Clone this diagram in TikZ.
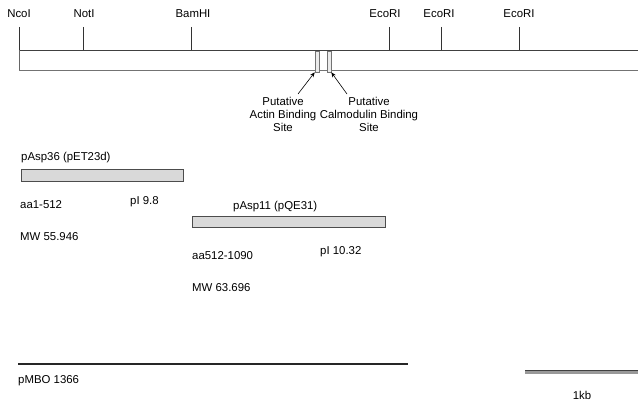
\documentclass[tikz,border=0pt]{standalone}
\usepackage{fontspec}
\setmainfont{Liberation Sans}
\usetikzlibrary{arrows.meta,patterns}
\begin{document}
\begin{tikzpicture}[x=1pt,y=-1pt,
  lbl/.style={inner sep=0pt,font=\fontsize{11.4}{13}\selectfont},
  tick/.style={line width=1pt,black!80},
  protbar/.style={draw=black!70,line width=0.5pt,fill=black!15},
  site/.style={draw=black!55,line width=0.5pt,fill=black!8},
  arr/.style={-{Stealth[length=5pt,width=4pt]},line width=0.6pt}]
\useasboundingbox (0,0) rectangle (638,404);
% main construct bar
\fill[white] (19,50) rectangle (638,70);
\draw[black!75,line width=0.8pt] (19,50) -- (638,50);
\draw[black!55,line width=0.8pt] (19,70) -- (638,70);
\draw[black!60,line width=0.6pt] (19,50) -- (19,70);
% restriction sites
\foreach \n/\x/\lx/\t in {nco/19/19/NcoI, not/83/84/NotI, bam/191/193/BamHI, ecoa/389/385/EcoRI, ecob/441/439/EcoRI, ecoc/519/519/EcoRI}{
  \coordinate (\n top) at (\x,27);
  \coordinate (\n bot) at (\x,50);
  \draw[tick] (\n top) -- (\n bot);
  \node[lbl] (\n lbl) at (\lx,14) {\t};
}
% binding sites
\node[site,minimum width=4pt,minimum height=21pt,inner sep=0pt] (actin) at (317,61.5) {};
\node[site,minimum width=4pt,minimum height=21pt,inner sep=0pt] (calm) at (329,61.5) {};
\node[lbl,align=center] (actinlbl) at (283,114) {Putative\\Actin Binding\\Site};
\node[lbl,align=center] (calmlbl) at (369,114) {Putative\\Calmodulin Binding\\Site};
\coordinate (a1) at (298,94);
\coordinate (c1) at (347,94);
\draw[arr] (a1) -- (actin.south west);
\draw[arr] (c1) -- (calm.south east);
% pAsp36
\node[lbl,anchor=west] (p36) at (21,158) {pAsp36 (pET23d)};
\node[protbar,minimum width=162pt,minimum height=12pt,inner sep=0pt,anchor=north west] (bar36) at (21,169) {};
\node[lbl,anchor=west] (aa36) at (20,205) {aa1-512};
\node[lbl,anchor=west] (pi36) at (130,202) {pI 9.8};
\node[lbl,anchor=west] (mw36) at (20,237) {MW 55.946};
% pAsp11
\node[lbl,anchor=west] (p11) at (233,207) {pAsp11 (pQE31)};
\node[protbar,minimum width=193pt,minimum height=11pt,inner sep=0pt,anchor=north west] (bar11) at (192,216) {};
\node[lbl,anchor=west] (aa11) at (192,256) {aa512-1090};
\node[lbl,anchor=west] (pi11) at (320,252) {pI 10.32};
\node[lbl,anchor=west] (mw11) at (192,288) {MW 63.696};
% vector line
\coordinate (vl) at (18,364);
\coordinate (vr) at (408,364);
\draw[line width=1.6pt,black!85] (vl) -- (vr);
\node[lbl,anchor=west] (vec) at (18,381) {pMBO 1366};
% scale bar
\coordinate (sl) at (525,372);
\coordinate (sr) at (638,372);
\draw[line width=3pt,black!40] (sl) -- (sr);
\draw[line width=0.5pt,black!75] (525,370.5) -- (638,370.5);
\node[lbl] (kb) at (582,395) {1kb};
\end{tikzpicture}
\end{document}
